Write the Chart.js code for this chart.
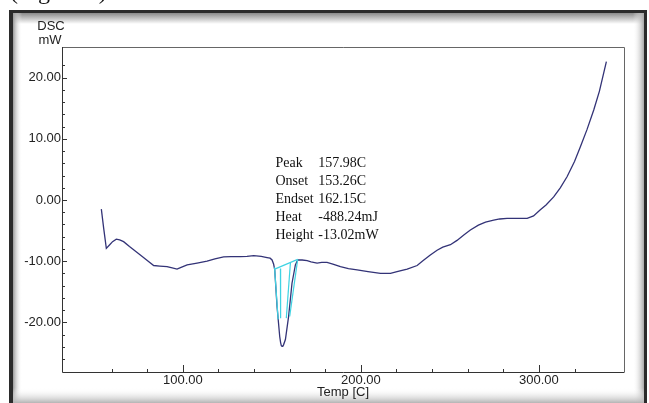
<!DOCTYPE html>
<html>
<head>
<meta charset="utf-8">
<script src="https://cdn.jsdelivr.net/npm/chart.js@4/dist/chart.umd.min.js"></script>
<style>
  html, body { margin: 0; padding: 0; background: #fff; }
  #wrap { width: 649px; height: 403px; }
</style>
</head>
<body>
<div id="wrap"><canvas id="dsc" width="649" height="403"></canvas></div>
<script>
// DSC curve: temperature [C] and heat flow [mW]
const temps = [54.2, 55.5, 57.0, 58.9, 60.5, 62.6, 64.5, 66.7, 70, 76.1, 80, 83.6, 87, 91.1, 94, 96.7,
  99, 102.4, 108, 113.6, 118, 122.9, 127, 132.3, 136, 139.8, 144, 147.3, 149, 150.1, 151.0, 151.6,
  152.9, 154.4, 154.9, 155.3, 155.7, 156.1, 156.5, 157.6, 159.4, 161.3, 163.2, 164.5, 167, 169.8,
  172, 175.4, 178, 181.0, 184.7, 188.5, 193, 197.9, 204, 211.0, 216.6, 220.3, 226, 231.6, 235,
  239.0, 242.8, 246, 250.3, 254, 257.8, 261.5, 266, 270, 274.6, 278, 282.1, 288, 293.4, 297, 300.8,
  304, 308.3, 312, 315.8, 320, 323.3, 327, 330.8, 334, 337.9];
const dsc = [-1.5, -4.6, -7.9, -7.3, -6.8, -6.4, -6.5, -6.8, -7.6, -9.0, -9.9, -10.7, -10.8, -10.9, -11.1, -11.3,
  -11.0, -10.6, -10.3, -10.0, -9.6, -9.3, -9.25, -9.25, -9.2, -9.1, -9.2, -9.4, -9.5, -9.8, -10.5, -11.4,
  -17.4, -22.3, -23.3, -23.8, -23.9, -23.85, -23.7, -22.8, -19.0, -13.6, -10.6, -9.8, -9.8, -9.9,
  -10.1, -10.3, -10.2, -10.2, -10.5, -10.9, -11.2, -11.4, -11.7, -12.0, -12.0, -11.7, -11.3, -10.7, -9.9,
  -9.0, -8.2, -7.7, -7.3, -6.6, -5.7, -4.9, -4.1, -3.6, -3.3, -3.1, -3.0, -3.0, -3.0, -2.6, -1.6,
  -0.8, 0.5, 2.0, 3.8, 6.3, 8.7, 11.5, 14.7, 17.8, 22.6];

// cyan construction lines of the peak analysis
const baseTemp = [151.6, 164.5];
const baseDsc = [-11.3, -9.7];
const onsetTemp = [151.5, 153.5];
const onsetDsc = [-11.0, -19.5];
const peakTemp = [154.8, 154.9];
const peakDsc = [-11.2, -19.3];
const midTemp = [160.4, 158.1];
const midDsc = [-10.3, -19.3];
const endTemp = [164.5, 160.0];
const endDsc = [-9.7, -19.0];

const peakKeys = ["Peak", "Onset", "Endset", "Heat", "Height"];
const peakVals = ["157.98C", "153.26C", "162.15C", "-488.24mJ", "-13.02mW"];

const xRange = [32.1, 347.8];
const yRange = [-28.1, 25.0];
const xStep = 20, xMajor = 100;
const yStep = 2, yMajor = 10;

const pts = (xs, ys) => xs.map((x, i) => ({ x, y: ys[i] }));
const NAVY = "#333377";
const CYAN = "#3fd3e3";

const cyanSet = (xs, ys) => ({
  data: pts(xs, ys),
  showLine: true,
  borderColor: CYAN,
  borderWidth: 1.2,
  pointRadius: 0,
  order: 0,
});

// frame, box, inner ticks and the texts
const dscDecor = {
  id: "dscDecor",
  beforeDraw(chart) {
    const { ctx, width, height, chartArea: a } = chart;
    ctx.save();
    ctx.fillStyle = "#fff";
    ctx.fillRect(0, 0, width, height);

    // caption cut off at the top of the picture
    ctx.fillStyle = "#111";
    ctx.font = "24px 'Liberation Serif'";
    ctx.textBaseline = "alphabetic";
    ctx.fillText("(Figure 1)", 10, -1);

    // bevelled window frame
    const L = 13, T = 13, R = 644, B = height;
    ctx.fillStyle = "#2b2b2b";
    ctx.fillRect(9, 10, 638, 3);
    ctx.fillRect(9, 10, 4, B - 10);
    ctx.fillRect(644, 10, 3, B - 10);
    let g = ctx.createLinearGradient(0, T, 0, T + 11);
    g.addColorStop(0, "#8a8a8a");
    g.addColorStop(1, "#fff");
    ctx.fillStyle = g;
    ctx.fillRect(L, T, R - L, 11);
    g = ctx.createLinearGradient(L, 0, L + 9, 0);
    g.addColorStop(0, "#9a9a9a");
    g.addColorStop(1, "rgba(255,255,255,0)");
    ctx.fillStyle = g;
    ctx.fillRect(L, T, 9, B - T);
    g = ctx.createLinearGradient(R - 11, 0, R, 0);
    g.addColorStop(0, "rgba(255,255,255,0)");
    g.addColorStop(1, "#a8a8a8");
    ctx.fillStyle = g;
    ctx.fillRect(R - 11, T, 11, B - T);
    g = ctx.createLinearGradient(0, 388, 0, B);
    g.addColorStop(0, "rgba(255,255,255,0)");
    g.addColorStop(1, "#b4b4b4");
    ctx.fillStyle = g;
    ctx.fillRect(L, 388, R - L, B - 388);

    ctx.fillStyle = "#fff";
    ctx.fillRect(a.left, a.top, a.width, a.height);
    ctx.restore();
  },
  afterDraw(chart) {
    const { ctx, chartArea: a, scales } = chart;
    const xs = scales.x, ys = scales.y;
    ctx.save();

    // box: grey top and right, dark axes
    ctx.lineWidth = 1;
    ctx.strokeStyle = "#666";
    ctx.beginPath();
    ctx.moveTo(a.left, a.top + 0.5);
    ctx.lineTo(a.right + 0.5, a.top + 0.5);
    ctx.lineTo(a.right + 0.5, a.bottom);
    ctx.stroke();
    ctx.strokeStyle = "#333";
    ctx.beginPath();
    ctx.moveTo(a.left + 0.5, a.top);
    ctx.lineTo(a.left + 0.5, a.bottom + 0.5);
    ctx.lineTo(a.right + 0.5, a.bottom + 0.5);
    ctx.stroke();

    // ticks pointing into the plot
    ctx.beginPath();
    ys.ticks.forEach(t => {
      const v = Math.round(t.value * 1000) / 1000;
      if (Math.abs(v / yStep - Math.round(v / yStep)) > 1e-6) return;
      const len = v % yMajor === 0 ? 5 : 3;
      const py = Math.round(ys.getPixelForValue(v)) + 0.5;
      ctx.moveTo(a.left, py);
      ctx.lineTo(a.left + len, py);
    });
    xs.ticks.forEach(t => {
      const v = Math.round(t.value * 1000) / 1000;
      if (Math.abs(v / xStep - Math.round(v / xStep)) > 1e-6) return;
      const len = v % xMajor === 0 ? 7 : 3;
      const px = Math.round(xs.getPixelForValue(v)) + 0.5;
      ctx.moveTo(px, a.bottom);
      ctx.lineTo(px, a.bottom - len);
    });
    ctx.stroke();

    // y axis name
    ctx.fillStyle = "#222";
    ctx.font = "13px 'Liberation Sans'";
    ctx.textAlign = "center";
    ctx.textBaseline = "middle";
    ctx.fillText("DSC", 51, 26);
    ctx.fillText("mW", 50, 40);

    // peak analysis text
    ctx.fillStyle = "#111";
    ctx.font = "14px 'Liberation Serif'";
    ctx.textAlign = "left";
    const kx = xs.getPixelForValue(152.0);
    const vx = xs.getPixelForValue(176.1);
    const y0 = ys.getPixelForValue(6.0);
    peakKeys.forEach((k, i) => {
      ctx.fillText(k, kx, y0 + i * 18);
      ctx.fillText(peakVals[i], vx, y0 + i * 18);
    });
    ctx.restore();
  },
};

const tickFont = { family: "'Liberation Sans'", size: 13 };

new Chart(document.getElementById("dsc"), {
  type: "scatter",
  data: {
    datasets: [
      {
        data: pts(temps, dsc),
        showLine: true,
        borderColor: NAVY,
        borderWidth: 1.3,
        pointRadius: 0,
        order: 1,
      },
      cyanSet(baseTemp, baseDsc),
      cyanSet(onsetTemp, onsetDsc),
      cyanSet(peakTemp, peakDsc),
      cyanSet(midTemp, midDsc),
      cyanSet(endTemp, endDsc),
    ],
  },
  options: {
    responsive: false,
    animation: false,
    devicePixelRatio: 1,
    layout: { padding: { left: 12, top: 47, right: 25, bottom: 0 } },
    plugins: { legend: { display: false }, tooltip: { enabled: false } },
    scales: {
      x: {
        type: "linear",
        min: xRange[0],
        max: xRange[1],
        afterFit: s => { s.height = 31; },
        grid: { display: false, drawTicks: false },
        border: { display: false },
        ticks: {
          stepSize: xStep,
          autoSkip: false,
          maxRotation: 0,
          padding: 1,
          color: "#222",
          font: tickFont,
          callback: v => (Math.abs(v % xMajor) < 1e-6 ? v.toFixed(2) : ""),
        },
        title: {
          display: true,
          text: "Temp [C]",
          color: "#222",
          font: tickFont,
          padding: { top: 0, bottom: 3 },
        },
      },
      y: {
        type: "linear",
        min: yRange[0],
        max: yRange[1],
        afterFit: s => { s.width = 50; },
        grid: { display: false, drawTicks: false },
        border: { display: false },
        ticks: {
          stepSize: yStep,
          autoSkip: false,
          padding: 1,
          color: "#222",
          font: tickFont,
          callback: v => (Math.abs(v % yMajor) < 1e-6 ? v.toFixed(2) : ""),
        },
      },
    },
  },
  plugins: [dscDecor],
});
</script>
</body>
</html>
